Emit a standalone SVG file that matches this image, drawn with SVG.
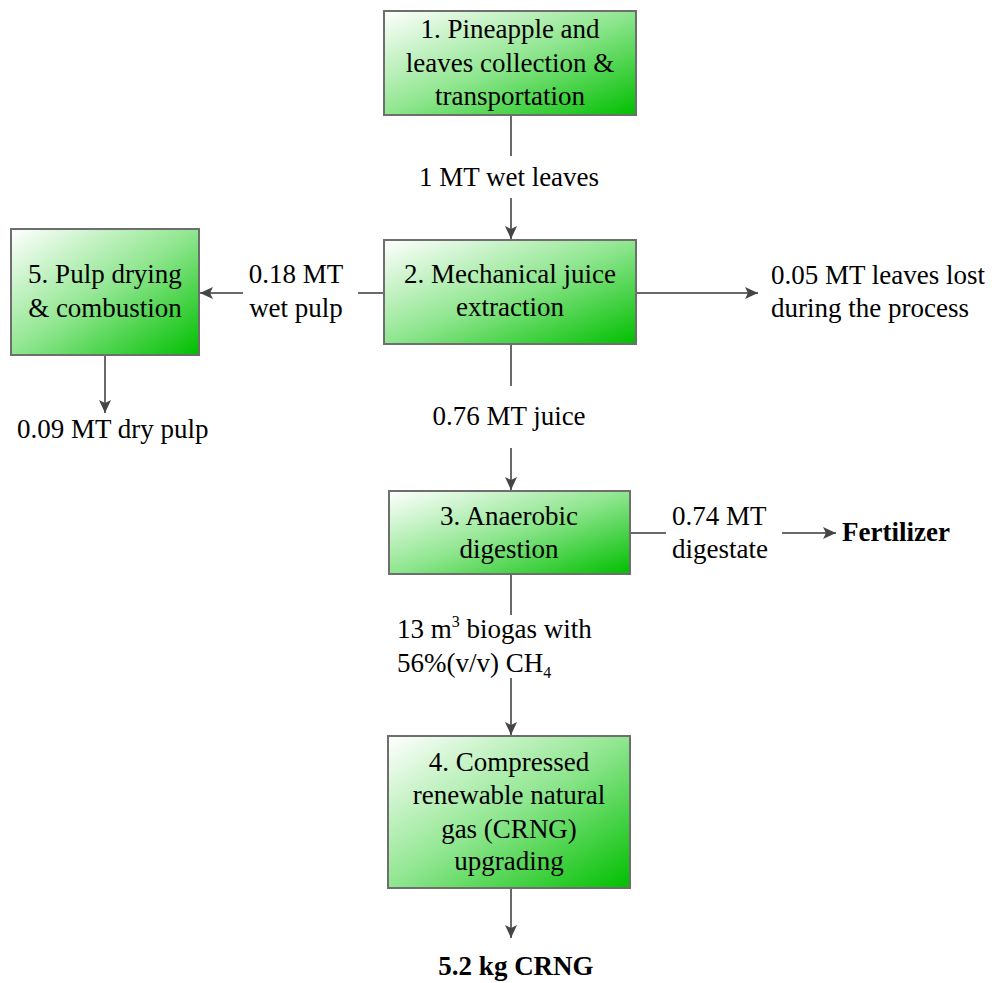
<svg xmlns="http://www.w3.org/2000/svg" width="995" height="983" viewBox="0 0 995 983">
<defs>
<linearGradient id="g" x1="0" y1="0" x2="1" y2="1">
<stop offset="0" stop-color="#ffffff"/>
<stop offset="0.5" stop-color="#8fe68f"/>
<stop offset="1" stop-color="#00bf00"/>
</linearGradient>
<marker id="ah" markerUnits="userSpaceOnUse" markerWidth="14" markerHeight="14" viewBox="0 0 14 14" refX="13" refY="7" orient="auto">
<path d="M0,1 L13,7 L0,13 L3,7 Z" fill="#454545"/>
</marker>
<style>
.box{fill:url(#g);stroke:#6e6e6e;stroke-width:2}
text{font-family:'Liberation Serif','DejaVu Serif',serif;font-size:27px;fill:#000}
.c{text-anchor:middle}
.b{font-weight:bold}
.ln{stroke:#6a6a6a;stroke-width:2;fill:none}
.ar{stroke:#6a6a6a;stroke-width:2;fill:none;marker-end:url(#ah)}
</style>
</defs>
<rect width="995" height="983" fill="#fff"/>
<g id="connectors">
<line class="ln" x1="511" y1="115" x2="511" y2="156"/>
<line class="ar" x1="511" y1="198" x2="511" y2="239"/>
<line class="ln" x1="384" y1="293" x2="358" y2="293"/>
<line class="ar" x1="243" y1="293" x2="200" y2="293"/>
<line class="ar" x1="636" y1="293" x2="758" y2="293"/>
<line class="ar" x1="105" y1="355" x2="105" y2="413"/>
<line class="ln" x1="511" y1="344" x2="511" y2="386"/>
<line class="ar" x1="511" y1="448" x2="511" y2="490"/>
<line class="ln" x1="630" y1="533" x2="666" y2="533"/>
<line class="ar" x1="782" y1="533" x2="836" y2="533"/>
<line class="ln" x1="511" y1="574" x2="511" y2="615"/>
<line class="ar" x1="511" y1="678" x2="511" y2="735"/>
<line class="ar" x1="511" y1="888" x2="511" y2="938"/>
</g>
<g id="labels">
<text class="c" x="509" y="186">1 MT wet leaves</text>
<text class="c" x="296" y="283">0.18 MT</text>
<text class="c" x="296" y="317">wet pulp</text>
<text x="771" y="284">0.05 MT leaves lost</text>
<text x="771" y="317">during the process</text>
<text x="17" y="438">0.09 MT dry pulp</text>
<text class="c" x="509" y="425">0.76 MT juice</text>
<text x="672" y="525">0.74 MT</text>
<text x="672" y="558">digestate</text>
<text class="b" x="842" y="541">Fertilizer</text>
<text x="397" y="638">13 m<tspan font-size="16" dy="-11">3</tspan><tspan dy="11"> biogas with</tspan></text>
<text x="397" y="672">56%(v/v) CH<tspan font-size="16" dy="6">4</tspan></text>
<text class="c b" x="516" y="975">5.2 kg CRNG</text>
</g>
<g id="node1">
<rect class="box" x="384" y="11" width="252" height="104"/>
<text class="c" x="510" y="38">1. Pineapple and</text>
<text class="c" x="510" y="72">leaves collection &amp;</text>
<text class="c" x="510" y="105">transportation</text>
</g>
<g id="node2">
<rect class="box" x="384" y="240" width="252" height="104"/>
<text class="c" x="510" y="283">2. Mechanical juice</text>
<text class="c" x="510" y="316">extraction</text>
</g>
<g id="node5">
<rect class="box" x="11" y="229" width="188" height="126"/>
<text class="c" x="105" y="283">5. Pulp drying</text>
<text class="c" x="105" y="317">&amp; combustion</text>
</g>
<g id="node3">
<rect class="box" x="389" y="491" width="241" height="83"/>
<text class="c" x="509" y="525">3. Anaerobic</text>
<text class="c" x="509" y="558">digestion</text>
</g>
<g id="node4">
<rect class="box" x="388" y="736" width="242" height="152"/>
<text class="c" x="509" y="771">4. Compressed</text>
<text class="c" x="509" y="804">renewable natural</text>
<text class="c" x="509" y="838">gas (CRNG)</text>
<text class="c" x="509" y="870">upgrading</text>
</g>
</svg>
